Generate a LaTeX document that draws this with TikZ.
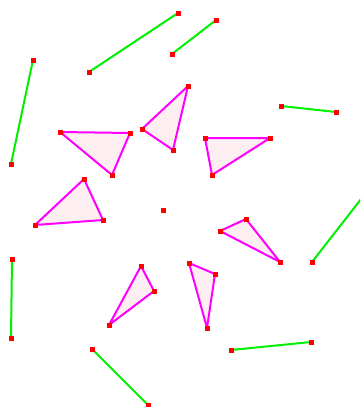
\documentclass[tikz,border=0pt]{standalone}
\begin{document}
\begin{tikzpicture}[x=1pt,y=-1pt,
  seg/.style={draw={rgb,255:red,0;green,240;blue,0},line width=2pt},
  tri/.style={draw={rgb,255:red,255;green,0;blue,255},fill={rgb,255:red,253;green,238;blue,242},line width=2pt,line join=round},
  mk/.style={fill=red,draw=none,minimum size=5pt,inner sep=0pt,outer sep=0pt,rectangle}]
\useasboundingbox (0,0) rectangle (360,407);
\clip (0,0) rectangle (360,407);
% segment end points
\coordinate (g1a) at (89,72);  \coordinate (g1b) at (178,13);
\coordinate (g2a) at (172,54); \coordinate (g2b) at (216,20);
\coordinate (g3a) at (33,60);  \coordinate (g3b) at (11,164);
\coordinate (g4a) at (281,106);\coordinate (g4b) at (336,112);
\coordinate (g5a) at (312,262);\coordinate (g5b) at (372,185);
\coordinate (g6a) at (12,259); \coordinate (g6b) at (11,338);
\coordinate (g7a) at (92,349); \coordinate (g7b) at (148,405);
\coordinate (g8a) at (231,350);\coordinate (g8b) at (311,342);
% triangle corners
\coordinate (t1a) at (60,132); \coordinate (t1b) at (130,133); \coordinate (t1c) at (112,175);
\coordinate (t2a) at (142,129);\coordinate (t2b) at (188,86);  \coordinate (t2c) at (173,150);
\coordinate (t3a) at (205,138);\coordinate (t3b) at (270,138); \coordinate (t3c) at (212,175);
\coordinate (t4a) at (84,179); \coordinate (t4b) at (103,220); \coordinate (t4c) at (35,225);
\coordinate (t5a) at (220,231);\coordinate (t5b) at (246,219); \coordinate (t5c) at (280,262);
\coordinate (t6a) at (189,263);\coordinate (t6b) at (215,274); \coordinate (t6c) at (207,328);
\coordinate (t7a) at (141,266);\coordinate (t7b) at (154,291); \coordinate (t7c) at (109,325);
\coordinate (ctr) at (163,210);
% segments
\foreach \i in {1,...,8} \draw[seg] (g\i a) -- (g\i b);
% triangles
\foreach \i in {1,...,7} \draw[tri] (t\i a) -- (t\i b) -- (t\i c) -- cycle;
% markers
\foreach \i in {1,...,8} {\node[mk] at (g\i a) {}; \node[mk] at (g\i b) {};}
\foreach \i in {1,...,7} {\node[mk] at (t\i a) {}; \node[mk] at (t\i b) {}; \node[mk] at (t\i c) {};}
\node[mk] (c) at (ctr) {};
\end{tikzpicture}
\end{document}
